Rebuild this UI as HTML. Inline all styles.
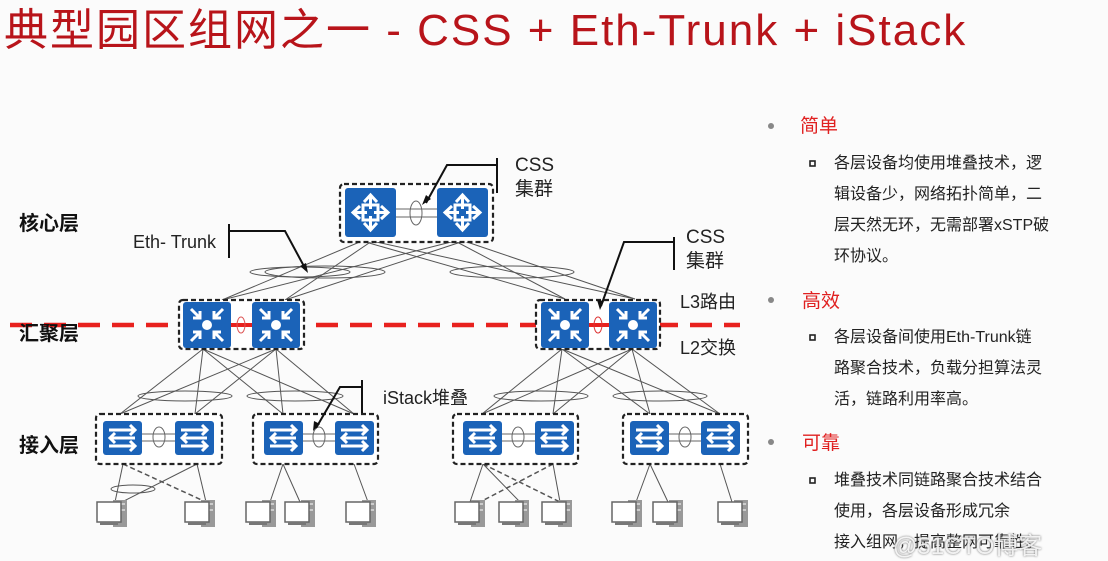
<!DOCTYPE html>
<html><head><meta charset="utf-8"><style>
html,body{margin:0;padding:0;background:#fbfbfb;}
body{width:1108px;height:558px;overflow:hidden;position:relative;font-family:"Liberation Sans","Noto Sans CJK SC",sans-serif;}
.t{position:absolute;white-space:nowrap;}
</style></head><body>
<svg width="1108" height="558" style="position:absolute;left:0;top:0" xmlns="http://www.w3.org/2000/svg">
<defs>
<g id="rt"><rect x="0" y="0" width="51" height="49" rx="3" fill="#1b63b8"/>
<g stroke="#fff" stroke-width="3" fill="none"><line x1="25.5" y1="8" x2="25.5" y2="41"/><line x1="9" y1="24.5" x2="42" y2="24.5"/>
<polyline points="19,14 25.5,7 32,14"/><polyline points="19,35 25.5,42 32,35"/><polyline points="15,18 8,24.5 15,31"/><polyline points="36,18 43,24.5 36,31"/>
<rect x="18" y="17" width="15" height="15"/></g><rect x="22" y="21" width="7" height="7" fill="#1b63b8"/><circle cx="25.5" cy="24.5" r="3" fill="#1b63b8"/></g>
<g id="ag"><rect x="0" y="0" width="48" height="46" rx="3" fill="#1b63b8"/>
<circle cx="24" cy="23" r="5" fill="#fff"/>
<g stroke="#fff" stroke-width="3" fill="none"><line x1="8" y1="7" x2="17" y2="16"/><polyline points="10,16 17,16 17,9"/>
<line x1="40" y1="7" x2="31" y2="16"/><polyline points="38,16 31,16 31,9"/>
<line x1="8" y1="39" x2="17" y2="30"/><polyline points="10,30 17,30 17,37"/>
<line x1="40" y1="39" x2="31" y2="30"/><polyline points="38,30 31,30 31,37"/></g></g>
<g id="ac"><rect x="0" y="0" width="39" height="34" rx="3" fill="#1b63b8"/>
<g stroke="#fff" stroke-width="3" fill="none"><line x1="6" y1="9" x2="32" y2="9"/><polyline points="27,4 32,9 27,14"/>
<line x1="7" y1="17" x2="32" y2="17"/><polyline points="12,12 7,17 12,22"/>
<line x1="6" y1="25" x2="32" y2="25"/><polyline points="27,20 32,25 27,30"/></g></g>
<g id="pc"><rect x="16" y="0" width="14" height="27" fill="#999"/><rect x="18" y="3" width="10" height="2" fill="#ccc"/><rect x="18" y="9" width="10" height="2" fill="#ccc"/>
<rect x="0" y="2" width="24" height="20" fill="#fff" stroke="#666" stroke-width="1.5"/><rect x="3" y="22" width="18" height="3" fill="#777"/></g>
</defs>
<g stroke="#555" stroke-width="1" fill="none">
<line x1="362" y1="241" x2="222" y2="300"/><line x1="372" y1="241" x2="285" y2="300"/><line x1="455" y1="241" x2="222" y2="300"/><line x1="464" y1="241" x2="285" y2="300"/>
<line x1="362" y1="241" x2="565" y2="299"/><line x1="372" y1="241" x2="635" y2="299"/><line x1="455" y1="241" x2="565" y2="299"/><line x1="464" y1="241" x2="635" y2="299"/>
<ellipse cx="300" cy="272" rx="50" ry="5"/><ellipse cx="325" cy="272" rx="60" ry="6"/><ellipse cx="512" cy="272" rx="62" ry="6"/>
<line x1="203" y1="349" x2="120" y2="414"/><line x1="203" y1="349" x2="195" y2="414"/><line x1="203" y1="349" x2="283" y2="414"/><line x1="203" y1="349" x2="354" y2="414"/>
<line x1="276" y1="349" x2="120" y2="414"/><line x1="276" y1="349" x2="195" y2="414"/><line x1="276" y1="349" x2="283" y2="414"/><line x1="276" y1="349" x2="354" y2="414"/>
<line x1="562" y1="349" x2="482" y2="414"/><line x1="562" y1="349" x2="553" y2="414"/><line x1="562" y1="349" x2="650" y2="414"/><line x1="562" y1="349" x2="720" y2="414"/>
<line x1="632" y1="349" x2="482" y2="414"/><line x1="632" y1="349" x2="553" y2="414"/><line x1="632" y1="349" x2="650" y2="414"/><line x1="632" y1="349" x2="720" y2="414"/>
<ellipse cx="185" cy="396" rx="47" ry="5"/><ellipse cx="295" cy="396" rx="48" ry="5"/><ellipse cx="541" cy="396" rx="47" ry="5"/><ellipse cx="660" cy="396" rx="47" ry="5"/>
<line x1="123" y1="464" x2="115" y2="502"/><line x1="197" y1="464" x2="122" y2="502"/><line x1="197" y1="464" x2="206" y2="502"/>
<ellipse cx="133" cy="489" rx="22" ry="4"/>
<line x1="283" y1="464" x2="270" y2="502"/><line x1="283" y1="464" x2="300" y2="502"/><line x1="354" y1="464" x2="368" y2="502"/>
<line x1="483" y1="464" x2="470" y2="502"/><line x1="483" y1="464" x2="520" y2="502"/><line x1="553" y1="464" x2="560" y2="502"/>
<line x1="650" y1="464" x2="636" y2="502"/><line x1="650" y1="464" x2="668" y2="502"/><line x1="720" y1="464" x2="732" y2="502"/>
<g stroke-dasharray="5,3" stroke-width="1.5"><line x1="123" y1="464" x2="206" y2="502"/><line x1="483" y1="464" x2="560" y2="502"/><line x1="553" y1="464" x2="480" y2="502"/></g>
</g>
<line x1="10" y1="325" x2="740" y2="325" stroke="#e8211e" stroke-width="4.5" stroke-dasharray="22,12"/>
<g fill="#fff" stroke="#222" stroke-width="2.2" stroke-dasharray="5,3">
<rect x="340" y="184" width="153" height="58" rx="4"/><rect x="179" y="300" width="125" height="49" rx="4"/><rect x="536" y="300" width="124" height="49" rx="4"/>
<rect x="96" y="414" width="126" height="50" rx="4"/><rect x="253" y="414" width="125" height="50" rx="4"/><rect x="453" y="414" width="125" height="50" rx="4"/><rect x="623" y="414" width="125" height="50" rx="4"/>
</g>
<g stroke="#666" stroke-width="1" fill="none">
<line x1="396" y1="209" x2="437" y2="209"/><line x1="396" y1="217" x2="437" y2="217"/><ellipse cx="416" cy="213" rx="6" ry="12"/>
<line x1="142" y1="434" x2="175" y2="434"/><line x1="142" y1="441" x2="175" y2="441"/><ellipse cx="159" cy="437" rx="6" ry="10"/>
<line x1="302" y1="434" x2="335" y2="434"/><line x1="302" y1="441" x2="335" y2="441"/><ellipse cx="319" cy="437" rx="6" ry="10"/>
<line x1="501" y1="434" x2="535" y2="434"/><line x1="501" y1="441" x2="535" y2="441"/><ellipse cx="518" cy="437" rx="6" ry="10"/>
<line x1="668" y1="434" x2="701" y2="434"/><line x1="668" y1="441" x2="701" y2="441"/><ellipse cx="685" cy="437" rx="6" ry="10"/>
</g>
<line x1="231" y1="325" x2="252" y2="325" stroke="#e8211e" stroke-width="4"/><ellipse cx="241" cy="325" rx="4" ry="8" fill="none" stroke="#d55" stroke-width="1"/>
<line x1="587" y1="325" x2="609" y2="325" stroke="#e8211e" stroke-width="4"/><ellipse cx="598" cy="325" rx="4" ry="8" fill="none" stroke="#d33" stroke-width="1"/>
<use href="#rt" x="345" y="188"/><use href="#rt" x="437" y="188"/>
<use href="#ag" x="183" y="302"/><use href="#ag" x="252" y="302"/><use href="#ag" x="541" y="302"/><use href="#ag" x="609" y="302"/>
<use href="#ac" x="103" y="421"/><use href="#ac" x="175" y="421"/><use href="#ac" x="264" y="421"/><use href="#ac" x="335" y="421"/>
<use href="#ac" x="463" y="421"/><use href="#ac" x="535" y="421"/><use href="#ac" x="630" y="421"/><use href="#ac" x="701" y="421"/>
<use href="#pc" x="97" y="500"/><use href="#pc" x="185" y="500"/><use href="#pc" x="246" y="500"/><use href="#pc" x="285" y="500"/><use href="#pc" x="346" y="500"/>
<use href="#pc" x="455" y="500"/><use href="#pc" x="499" y="500"/><use href="#pc" x="542" y="500"/><use href="#pc" x="612" y="500"/><use href="#pc" x="653" y="500"/><use href="#pc" x="718" y="500"/>
<g stroke="#111" stroke-width="2" fill="none">
<line x1="497" y1="158" x2="497" y2="193"/><polyline points="497,165 447,165 426,203"/>
<line x1="229" y1="224" x2="229" y2="258"/><polyline points="229,231 285,231 306,270"/>
<line x1="674" y1="237" x2="674" y2="270"/><polyline points="674,242 624,242 601,306"/>
<line x1="362" y1="380" x2="362" y2="413"/><polyline points="362,387 340,387 316,428"/>
</g>
<g fill="#111"><polygon points="422,205 426,195 431,199"/><polygon points="308,273 300,266 306,263"/><polygon points="600,310 597,300 604,301"/><polygon points="313,431 314,421 320,424"/></g>
<g fill="#888"><circle cx="771" cy="126" r="3"/><circle cx="771" cy="300" r="3"/><circle cx="771" cy="442" r="3"/></g>
<g fill="none" stroke="#222" stroke-width="1.6"><rect x="810" y="161" width="5" height="5"/><rect x="810" y="335" width="5" height="5"/><rect x="810" y="478" width="5" height="5"/></g>
</svg>
<div class="t" style="left:4px;top:4px;font-size:44px;letter-spacing:2px;color:#b8141a;line-height:54px;">典型园区组网之一 - CSS + Eth-Trunk + iStack</div>
<div class="t" style="left:19px;top:207px;font-size:20px;font-weight:bold;color:#111;">核心层</div>
<div class="t" style="left:19px;top:317px;font-size:20px;font-weight:bold;color:#111;">汇聚层</div>
<div class="t" style="left:19px;top:429px;font-size:20px;font-weight:bold;color:#111;">接入层</div>
<div class="t" style="left:515px;top:154px;font-size:19px;color:#222;line-height:24px;">CSS<br>集群</div>
<div class="t" style="left:686px;top:226px;font-size:19px;color:#222;line-height:24px;">CSS<br>集群</div>
<div class="t" style="left:133px;top:232px;font-size:18px;color:#222;">Eth- Trunk</div>
<div class="t" style="left:680px;top:288px;font-size:18px;color:#222;">L3路由</div>
<div class="t" style="left:680px;top:334px;font-size:18px;color:#222;">L2交换</div>
<div class="t" style="left:383px;top:384px;font-size:18px;color:#222;">iStack堆叠</div>
<div class="t" style="left:800px;top:111px;font-size:19px;color:#e02020;">简单</div>
<div class="t" style="left:802px;top:286px;font-size:19px;color:#e02020;">高效</div>
<div class="t" style="left:802px;top:428px;font-size:19px;color:#e02020;">可靠</div>
<div class="t" style="left:834px;top:148px;font-size:16px;line-height:31px;color:#222;">各层设备均使用堆叠技术，逻<br>辑设备少，网络拓扑简单，二<br>层天然无环，无需部署xSTP破<br>环协议。</div>
<div class="t" style="left:834px;top:322px;font-size:16px;line-height:31px;color:#222;">各层设备间使用Eth-Trunk链<br>路聚合技术，负载分担算法灵<br>活，链路利用率高。</div>
<div class="t" style="left:834px;top:465px;font-size:16px;line-height:31px;color:#222;">堆叠技术同链路聚合技术结合<br>使用，各层设备形成冗余<br>接入组网，提高整网可靠性。</div>
<div class="t" style="left:893px;top:526px;font-size:24px;color:rgba(255,255,255,0.85);text-shadow:0 0 2px #666;">@51CTO博客</div>
</body></html>
